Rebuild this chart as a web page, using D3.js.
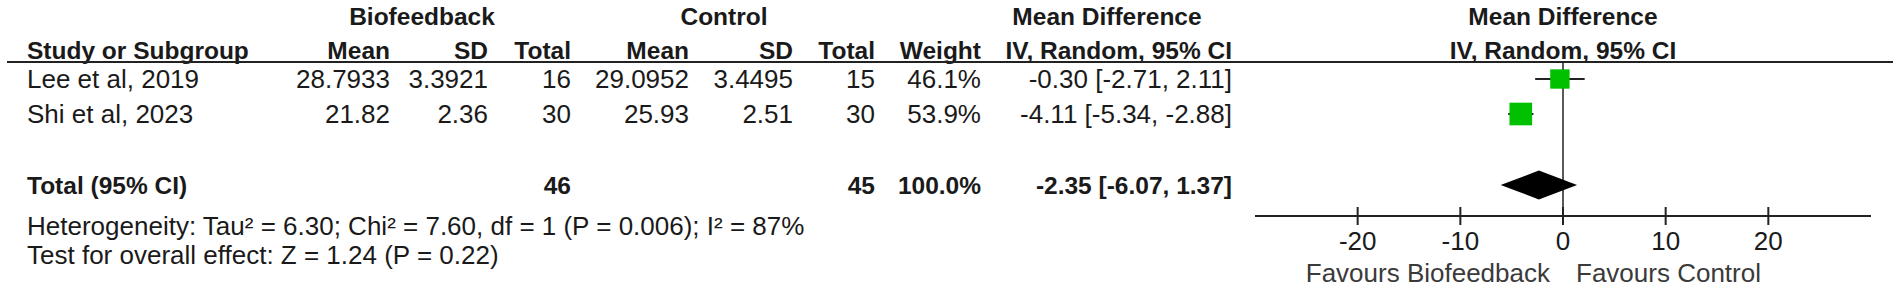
<!DOCTYPE html>
<html>
<head>
<meta charset="utf-8">
<script src="https://cdn.jsdelivr.net/npm/d3@7"></script>
<style>
  body { margin: 0; background: #fff; }
  svg text { font-family: "Liberation Sans", Arial, sans-serif; font-size: 26px; fill: #1a1a1a; }
  svg text.b { font-weight: bold; font-size: 24.5px; }
</style>
</head>
<body>
<div id="fig"></div>
<script>
// data
const studies = ["Lee et al, 2019", "Shi et al, 2023"];
const bioMean = [28.7933, 21.82];
const bioSD = [3.3921, 2.36];
const bioN = [16, 30];
const ctlMean = [29.0952, 25.93];
const ctlSD = [3.4495, 2.51];
const ctlN = [15, 30];
const weights = [46.1, 53.9];
const md = [-0.30, -4.11];
const mdLo = [-2.71, -5.34];
const mdHi = [2.11, -2.88];

const totalBioN = 46;
const totalCtlN = 45;
const totalWeight = 100.0;
const totalMd = -2.35, totalLo = -6.07, totalHi = 1.37;

const hetText = "Heterogeneity: Tau\u00b2 = 6.30; Chi\u00b2 = 7.60, df = 1 (P = 0.006); I\u00b2 = 87%";
const effectText = "Test for overall effect: Z = 1.24 (P = 0.22)";
const axisTicks = [-20, -10, 0, 10, 20];
const favLeft = "Favours Biofeedback", favRight = "Favours Control";

const width = 1902, height = 288;

const svg = d3.select('#fig').append('svg')
    .attr('width', width)
    .attr('height', height);

svg.append('rect').attr('width', width).attr('height', height).attr('fill', '#fff');

// scales
const x = d3.scaleLinear().domain([-30, 30]).range([1255, 1871]);
const y = d3.scalePoint().domain(studies).range([79, 114]);
const boxSize = d3.scaleLinear().domain([0, 100]).range([0, 42]);

const yTotal = 185, yAxis = 216;
const capOff = 9; // baseline below row centre
const left = 27;

// column right edges
const cols = [
    { key: 'bm', x: 390, head: 'Mean' },
    { key: 'bs', x: 488, head: 'SD' },
    { key: 'bn', x: 571, head: 'Total' },
    { key: 'cm', x: 689, head: 'Mean' },
    { key: 'cs', x: 793, head: 'SD' },
    { key: 'cn', x: 875, head: 'Total' },
    { key: 'w', x: 981, head: 'Weight' },
    { key: 'ci', x: 1232, head: 'IV, Random, 95% CI' }
];

// header row 1
const h1 = [
    { t: 'Biofeedback', x: 422 },
    { t: 'Control', x: 724 },
    { t: 'Mean Difference', x: 1107 },
    { t: 'Mean Difference', x: x(0) }
];
svg.append('g').selectAll('text').data(h1).enter().append('text')
    .attr('class', 'b')
    .attr('x', d => d.x).attr('y', 25)
    .attr('text-anchor', 'middle')
    .text(d => d.t);

// header row 2
svg.append('text').attr('class', 'b').attr('x', left).attr('y', 59).text('Study or Subgroup');
svg.append('g').selectAll('text').data(cols).enter().append('text')
    .attr('class', 'b')
    .attr('x', d => d.x).attr('y', 59)
    .attr('text-anchor', 'end')
    .text(d => d.head);
svg.append('text').attr('class', 'b').attr('x', x(0)).attr('y', 59)
    .attr('text-anchor', 'middle').text('IV, Random, 95% CI');

svg.append('line')
    .attr('x1', 7).attr('x2', 1893).attr('y1', 62).attr('y2', 62)
    .attr('stroke', '#222').attr('stroke-width', 2);

// study rows
const fmtCI = (m, l, h) => `${m.toFixed(2)} [${l.toFixed(2)}, ${h.toFixed(2)}]`;
const rows = studies.map((s, i) => ({
    study: s,
    bm: String(bioMean[i]), bs: String(bioSD[i]), bn: String(bioN[i]),
    cm: String(ctlMean[i]), cs: String(ctlSD[i]), cn: String(ctlN[i]),
    w: weights[i].toFixed(1) + '%',
    ci: fmtCI(md[i], mdLo[i], mdHi[i]),
    md: md[i], lo: mdLo[i], hi: mdHi[i], weight: weights[i]
}));

const rowG = svg.append('g').selectAll('g').data(rows).enter().append('g')
    .attr('transform', d => `translate(0,${y(d.study) + capOff})`);
rowG.append('text').attr('x', left).text(d => d.study);
cols.forEach(c => {
    rowG.append('text').attr('x', c.x).attr('text-anchor', 'end').text(d => d[c.key]);
});

// total row
const totalRow = [
    { x: left, a: 'start', t: 'Total (95% CI)' },
    { x: 571, a: 'end', t: String(totalBioN) },
    { x: 875, a: 'end', t: String(totalCtlN) },
    { x: 981, a: 'end', t: totalWeight.toFixed(1) + '%' },
    { x: 1232, a: 'end', t: fmtCI(totalMd, totalLo, totalHi) }
];
svg.append('g').selectAll('text').data(totalRow).enter().append('text')
    .attr('class', 'b')
    .attr('x', d => d.x).attr('y', yTotal + capOff)
    .attr('text-anchor', d => d.a)
    .text(d => d.t);

svg.append('text').attr('x', left).attr('y', 235).text(hetText);
svg.append('text').attr('x', left).attr('y', 264).text(effectText);

// forest plot
svg.append('line')
    .attr('x1', x(0)).attr('x2', x(0)).attr('y1', 62).attr('y2', yAxis)
    .attr('stroke', '#222').attr('stroke-width', 1.5);

const marks = svg.append('g').selectAll('g').data(rows).enter().append('g');
marks.append('line')
    .attr('x1', d => x(d.lo)).attr('x2', d => x(d.hi))
    .attr('y1', d => y(d.study)).attr('y2', d => y(d.study))
    .attr('stroke', '#222').attr('stroke-width', 2);
marks.append('rect')
    .attr('x', d => x(d.md) - boxSize(d.weight) / 2)
    .attr('y', d => y(d.study) - boxSize(d.weight) / 2)
    .attr('width', d => boxSize(d.weight))
    .attr('height', d => boxSize(d.weight))
    .attr('fill', '#00c000');

// diamond
const dh = 14.5;
svg.append('path')
    .attr('d', `M${x(totalLo)},${yTotal} L${x(totalMd)},${yTotal - dh} L${x(totalHi)},${yTotal} L${x(totalMd)},${yTotal + dh} Z`)
    .attr('fill', '#000');

// axis
const ax = svg.append('g').attr('transform', `translate(0,${yAxis})`);
ax.append('line').attr('x1', x(-30)).attr('x2', x(30))
    .attr('stroke', '#222').attr('stroke-width', 2);
ax.selectAll('line.tick').data(axisTicks).enter().append('line')
    .attr('class', 'tick')
    .attr('x1', d => x(d)).attr('x2', d => x(d))
    .attr('y1', -9).attr('y2', 9)
    .attr('stroke', '#222').attr('stroke-width', 2);
ax.selectAll('text').data(axisTicks).enter().append('text')
    .attr('x', d => x(d)).attr('y', 34)
    .attr('text-anchor', 'middle')
    .text(d => d);

svg.append('text').attr('x', x(0) - 13).attr('y', 282)
    .attr('text-anchor', 'end').style('fill', '#3a3a3a').text(favLeft);
svg.append('text').attr('x', x(0) + 13).attr('y', 282)
    .attr('text-anchor', 'start').style('fill', '#3a3a3a').text(favRight);
</script>
</body>
</html>
